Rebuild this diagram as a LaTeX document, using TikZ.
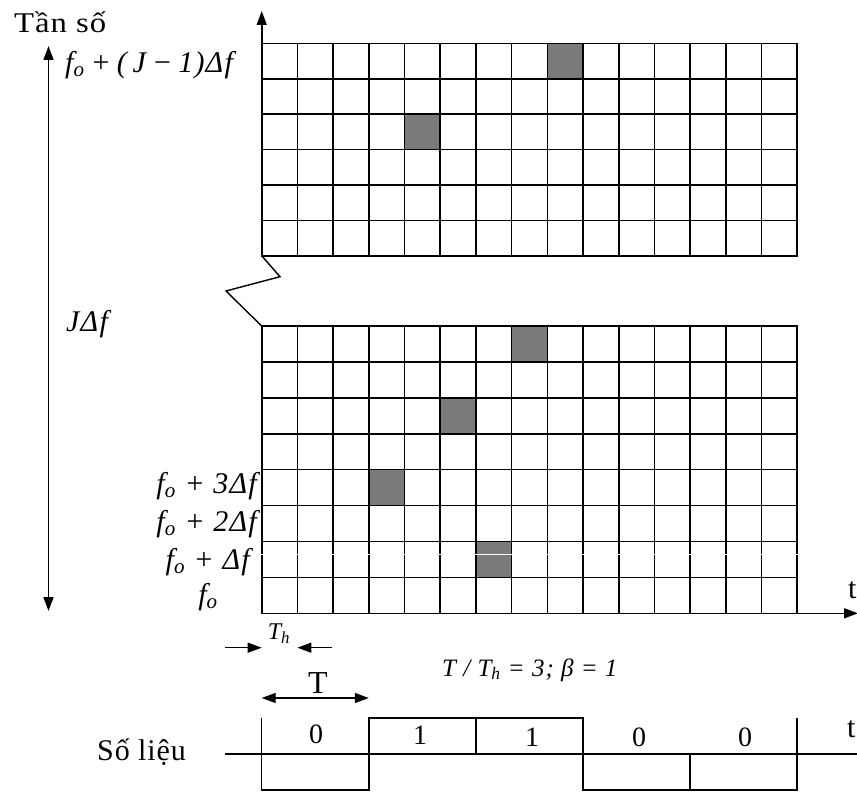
\documentclass[tikz,border=0pt]{standalone}
\usepackage{graphicx}
\usepackage{fontspec}
\setmainfont{Liberation Serif}
\newfontfamily\lblfont[LetterSpace=4]{Liberation Serif}
\newfontfamily\romfont[LetterSpace=3]{Liberation Serif}
\usetikzlibrary{arrows.meta}
\begin{document}
\begin{tikzpicture}[x=1pt,y=-1pt,
  gridline/.style={line width=1.6pt,line cap=rect},
  cellfill/.style={fill=black!52},
  axisline/.style={line width=1.6pt},
  tip/.style={-{Triangle[length=14pt,width=10pt]}},
  twotip/.style={{Triangle[length=14pt,width=10pt]}-{Triangle[length=14pt,width=10pt]}},
  lbl/.style={inner sep=0pt,font=\lblfont\itshape\fontsize{30}{32}\selectfont},
  rom/.style={inner sep=0pt,font=\romfont\fontsize{30}{32}\selectfont},
  digit/.style={inner sep=0pt,font=\romfont\fontsize{28}{30}\selectfont},
  wave/.style={line width=1.5pt}]
\useasboundingbox (0,0) rectangle (857,792);

% ---------- shaded cells ----------
\foreach \r/\c in {0/8,2/4}
  \fill[cellfill] (261.7+\c*35.7,43.5+\r*35.37) rectangle ++(35.7,35.37);
\foreach \r/\c in {0/7,2/5,4/3,6/6}
  \fill[cellfill] (261.7+\c*35.7,326+\r*35.91) rectangle ++(35.7,35.91);

% ---------- upper grid ----------
\foreach \i in {1,...,15}
  \draw[gridline] (261.7+\i*35.7,43.5) -- (261.7+\i*35.7,255.7);
\foreach \j in {0,...,6}
  \draw[gridline] (261.7,43.5+\j*35.37) -- (797.2,43.5+\j*35.37);

% ---------- lower grid ----------
\foreach \i in {0,...,15}
  \draw[gridline] (261.7+\i*35.7,326) -- (261.7+\i*35.7,613.3);
\foreach \j in {0,...,7}
  \draw[gridline] (261.7,326+\j*35.91) -- (797.2,326+\j*35.91);
\draw[white,line width=0.8pt] (255,554) -- (800,554);

% ---------- axes ----------
\coordinate (vbot) at (261.7,255.7);
\coordinate (vtop) at (261.7,11);
\draw[axisline,tip] (vbot) -- (vtop);
\coordinate (hleft) at (261.7,613.3);
\coordinate (hright) at (858,613.3);
\draw[axisline,tip] (hleft) -- (hright);
\node[rom,anchor=west] (tlab1) at (848,590) {t};

% break zigzag
\coordinate (z1) at (280,276.7);
\coordinate (z2) at (226,291);
\coordinate (z3) at (261.7,326);
\draw[line width=1.4pt] (vbot) -- (z1) -- (z2) -- (z3);

% left double arrow
\coordinate (la) at (48.5,46);
\coordinate (lb) at (48.5,611);
\draw[axisline,twotip] (la) -- (lb);

% ---------- frequency labels ----------
\node[anchor=base west,inner sep=0pt] (tanso) at (14,33)
  {\scalebox{1.17}[1.02]{\romfont\fontsize{28}{30}\selectfont Tần số}};
\node[lbl,anchor=west] (ltop) at (65,65) {f\textsubscript{o}\hspace{0.2em}+\hspace{0.2em}(\hspace{0.2em}J\hspace{0.2em}−\hspace{0.2em}1)Δf};
\node[lbl,anchor=west] (ljdf) at (66,324) {JΔf};
\node[lbl,anchor=east] (l3) at (257,486) {f\textsubscript{o} + 3Δf};
\node[lbl,anchor=east] (l2) at (257,524) {f\textsubscript{o} + 2Δf};
\node[lbl,anchor=east] (l1) at (250,562) {f\textsubscript{o} + Δf};
\node[lbl] (l0) at (208,597) {f\textsubscript{o}};

% ---------- timing ----------
\coordinate (tha) at (225,647.7);
\coordinate (thb) at (261.7,647.7);
\coordinate (thc) at (331.7,647.7);
\coordinate (thd) at (297.4,647.7);
\draw[line width=1.3pt,tip] (tha) -- (thb);
\draw[line width=1.3pt,tip] (thc) -- (thd);
\node[lbl,font=\lblfont\itshape\fontsize{24}{26}\selectfont] (thl) at (279,634) {T\textsubscript{h}};
\node[lbl,anchor=west,font=\lblfont\itshape\fontsize{25}{27}\selectfont] (ratio) at (442,670) {T / T\textsubscript{h} = 3; β = 1};

\coordinate (ta) at (261.7,698);
\coordinate (tb) at (368.8,698);
\draw[line width=1.3pt,twotip] (ta) -- (tb);
\node[inner sep=0pt,font=\romfont\fontsize{32}{34}\selectfont] (tbig) at (318,683) {T};

% ---------- data waveform ----------
\coordinate (b0) at (225,754);
\coordinate (b1) at (857,754);
\draw[wave] (b0) -- (b1);
\draw[wave] (261.7,718) -- (261.7,790) -- (368.8,790) -- (368.8,718) -- (583,718)
  -- (583,790) -- (797.2,790) -- (797.2,718);
\draw[wave] (475.9,718) -- (475.9,754);
\draw[wave] (690.1,754) -- (690.1,790);
\node[digit] (d1) at (316,734) {0};
\node[digit] (d2) at (420,735) {1};
\node[digit] (d3) at (532,737) {1};
\node[digit] (d4) at (639,737) {0};
\node[digit] (d5) at (745,737) {0};
\node[rom,anchor=west] (sl) at (97,752) {Số liệu};
\node[rom,anchor=west] (tlab2) at (847,729) {t};
\end{tikzpicture}
\end{document}
